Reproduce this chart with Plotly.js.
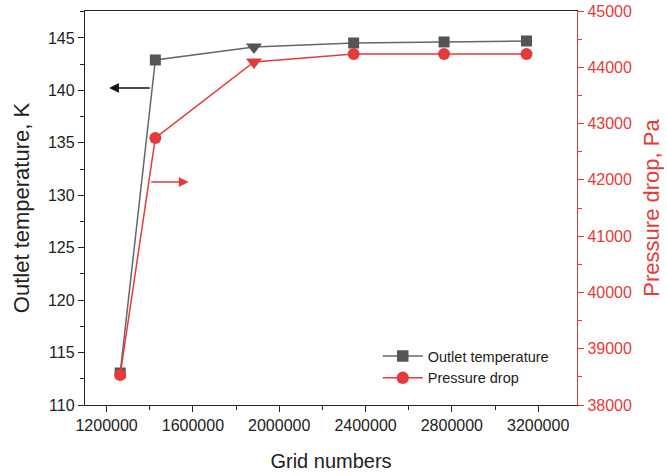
<!DOCTYPE html>
<html>
<head>
<meta charset="utf-8">
<script src="https://cdn.plot.ly/plotly-3.0.1.min.js"></script>
<style>html,body{margin:0;padding:0;background:#fff}#chart{width:667px;height:476px}</style>
</head>
<body>
<div id="chart"></div>
<script>
const gridNumbers = [1263000, 1426000, 1883000, 2345000, 2764000, 3146000];
const outletTemperature = [113.05, 142.9, 144.14, 144.52, 144.62, 144.71];
const pressureDrop = [38533, 42744, 44094, 44236, 44238, 44238];
const tempSymbols = ['square', 'square', 'triangle-down', 'square', 'square', 'square'];
const pressSymbols = ['circle', 'circle', 'triangle-down', 'circle', 'circle', 'circle'];
const seriesNames = ['Outlet temperature', 'Pressure drop'];

const RED = '#e53a3a';
const GREY = '#555555';

const traces = [
  {
    x: gridNumbers, y: outletTemperature, name: seriesNames[0],
    type: 'scatter', mode: 'lines+markers',
    line: {color: '#666666', width: 1.5},
    marker: {symbol: tempSymbols, size: [11,11,14,11,11,11], color: GREY, opacity: 1, line: {width: 0}},
    yaxis: 'y'
  },
  {
    x: gridNumbers, y: pressureDrop, name: seriesNames[1],
    type: 'scatter', mode: 'lines+markers',
    line: {color: RED, width: 1.5},
    marker: {symbol: pressSymbols, size: [12,12,14,12,12,12], color: RED, opacity: 1, line: {width: 0}},
    yaxis: 'y2'
  }
];

const font = {family: 'Liberation Sans, Arial, sans-serif', size: 16, color: '#222'};

const layout = {
  width: 667, height: 476,
  margin: {l: 85, r: 90, t: 11, b: 71},
  paper_bgcolor: '#fff', plot_bgcolor: '#fff',
  font: font,
  showlegend: true,
  legend: {x: 0.595, y: 0.165, xanchor: 'left', yanchor: 'top', bgcolor: 'rgba(0,0,0,0)',
           font: {family: font.family, size: 14.5, color: '#222'}, tracegroupgap: 0, itemwidth: 40},
  xaxis: {
    range: [1100000, 3380000],
    tickvals: [1200000, 1600000, 2000000, 2400000, 2800000, 3200000],
    ticktext: ['1200000', '1600000', '2000000', '2400000', '2800000', '3200000'],
    showgrid: false, zeroline: false,
    showline: true, linecolor: '#222', linewidth: 1.2, mirror: true,
    ticks: 'outside', ticklen: 6, tickcolor: '#222',
    minor: {dtick: 200000, tick0: 1200000, ticks: 'outside', ticklen: 4, tickcolor: '#222', showgrid: false},
    tickfont: {size: 16, color: '#222'},
    title: {text: 'Grid numbers', font: {size: 20, color: '#222'}, standoff: 20}
  },
  yaxis: {
    range: [110, 147.57],
    tickvals: [110, 115, 120, 125, 130, 135, 140, 145],
    showgrid: false, zeroline: false,
    showline: true, linecolor: '#222', linewidth: 1.2,
    ticks: 'outside', ticklen: 6, tickcolor: '#222',
    minor: {dtick: 2.5, tick0: 110, ticks: 'outside', ticklen: 4, tickcolor: '#222', showgrid: false},
    tickfont: {size: 16, color: '#222'},
    title: {text: 'Outlet temperature, K', font: {size: 22, color: '#222'}, standoff: 12}
  },
  yaxis2: {
    overlaying: 'y', side: 'right',
    range: [38000, 45000],
    tickvals: [38000, 39000, 40000, 41000, 42000, 43000, 44000, 45000],
    ticktext: ['38000','39000','40000','41000','42000','43000','44000','45000'],
    showgrid: false, zeroline: false,
    showline: true, linecolor: RED, linewidth: 1.2,
    ticks: 'outside', ticklen: 6, tickcolor: RED,
    minor: {dtick: 500, tick0: 38000, ticks: 'outside', ticklen: 4, tickcolor: RED, showgrid: false},
    tickfont: {size: 16, color: RED},
    title: {text: 'Pressure drop, Pa', font: {size: 22, color: RED}, standoff: 12}
  },
  annotations: [
    {x: 1212000, y: 140.23, xref: 'x', yref: 'y', ax: 1407000, ay: 140.23, axref: 'x', ayref: 'y',
     showarrow: true, arrowhead: 2, arrowsize: 1.3, arrowwidth: 1.5, arrowcolor: '#111', text: ''},
    {x: 1580000, y: 41962, xref: 'x', yref: 'y2', ax: 1400000, ay: 41962, axref: 'x', ayref: 'y2',
     showarrow: true, arrowhead: 2, arrowsize: 1.3, arrowwidth: 1.5, arrowcolor: RED, text: ''}
  ]
};

Plotly.newPlot('chart', traces, layout, {displayModeBar: false, staticPlot: true});
</script>
</body>
</html>
